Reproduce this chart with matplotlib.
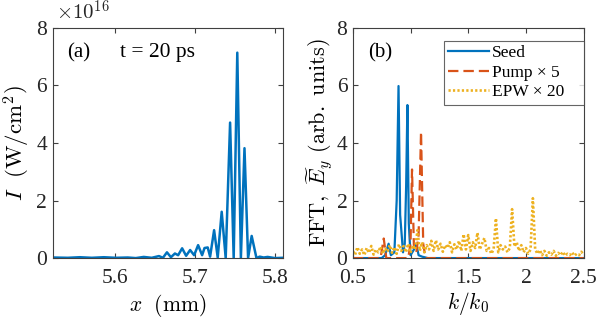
import numpy as np
import matplotlib
matplotlib.use("Agg")
import matplotlib.pyplot as plt
from matplotlib.ticker import FormatStrFormatter

plt.rcParams['font.family'] = ['Liberation Serif', 'DejaVu Serif']
plt.rcParams['mathtext.fontset'] = 'cm'
plt.rcParams['lines.scale_dashes'] = False

c_blue = '#0072BD'
c_orange = '#D95319'
c_yellow = '#EDB120'
c_axis = '#404040'

# (a) seed intensity, units of 1e16 W/cm^2
x_mm = [5.522, 5.541, 5.556, 5.571, 5.586, 5.601, 5.616, 5.626, 5.636, 5.646,
        5.655, 5.660, 5.665, 5.670, 5.675, 5.679, 5.684, 5.689, 5.694, 5.699,
        5.704, 5.709, 5.712, 5.716, 5.719, 5.724, 5.7285, 5.7335, 5.7385, 5.744,
        5.7485, 5.753, 5.7575, 5.762, 5.7665, 5.771, 5.777, 5.781, 5.786, 5.791,
        5.800, 5.810]
I_seed = [0.02, 0.01, 0.03, 0.01, 0.03, 0.01, 0.02, 0.0, 0.04, 0.01,
          0.07, 0.01, 0.20, 0.03, 0.16, 0.10, 0.34, 0.08, 0.28, 0.10,
          0.45, 0.10, 0.35, 0.37, 0.05, 0.97, 0.02, 1.61, 0.0, 4.71,
          0.0, 7.14, 0.0, 3.82, 0.0, 0.77, 0.0, 0.05, 0.02, 0.04,
          0.0, 0.01]

# (b) spectra
k_seed = [0.50, 0.75, 0.78, 0.81, 0.83, 0.86, 0.88, 0.896, 0.91, 0.935,
          0.95, 0.962, 0.973, 0.985, 1.00, 1.03, 1.05, 1.07, 1.10, 1.15, 2.50]
fft_seed = [0.0, 0.0, 0.1, 0.5, 0.1, 0.2, 2.0, 5.98, 1.5, 0.2,
            0.5, 2.5, 5.32, 1.2, 0.1, 0.3, 0.5, 0.1, 0.05, 0.0, 0.0]

k_pump = [0.50, 0.74, 0.768, 0.79, 0.98, 1.00, 1.013, 1.03, 1.05, 1.07,
          1.091, 1.11, 1.13, 2.50]
fft_pump = [0.0, 0.0, 0.68, 0.0, 0.0, 0.5, 3.08, 0.3, 0.2, 0.8,
            4.39, 0.5, 0.0, 0.0]

k_epw = [0.50, 0.52, 0.54, 0.56, 0.58, 0.60, 0.62, 0.64, 0.66, 0.68,
         0.70, 0.72, 0.74, 0.76, 0.78, 0.80, 0.82, 0.84, 0.86, 0.88,
         0.90, 0.92, 0.94, 0.96, 0.98, 1.00, 1.02, 1.04, 1.06, 1.08,
         1.10, 1.12, 1.14, 1.16, 1.18, 1.20, 1.22, 1.24, 1.26, 1.28,
         1.30, 1.32, 1.34, 1.36, 1.38, 1.40, 1.42, 1.44, 1.46, 1.48,
         1.50, 1.52, 1.54, 1.56, 1.58, 1.60, 1.62, 1.64, 1.66, 1.68,
         1.70, 1.72, 1.74, 1.76, 1.78, 1.80, 1.82, 1.84, 1.86, 1.88,
         1.90, 1.92, 1.94, 1.96, 1.98, 2.00, 2.02, 2.04, 2.06, 2.08,
         2.10, 2.12, 2.14, 2.16, 2.18, 2.20, 2.22, 2.24, 2.26, 2.28,
         2.30, 2.32, 2.34, 2.36, 2.38, 2.40, 2.42, 2.44, 2.46, 2.48, 2.50]
fft_epw = [0.25, 0.12, 0.38, 0.15, 0.30, 0.10, 0.35, 0.18, 0.42, 0.12,
           0.30, 0.20, 0.40, 0.15, 0.35, 0.22, 0.45, 0.18, 0.38, 0.15,
           0.48, 0.25, 0.42, 0.20, 0.50, 0.18, 0.45, 0.30, 0.97, 0.25,
           0.55, 0.20, 0.45, 0.30, 0.60, 0.25, 0.62, 0.30, 0.50, 0.22,
           0.45, 0.35, 0.55, 0.20, 0.48, 0.30, 0.60, 0.25, 0.83, 0.30,
           0.80, 0.25, 0.55, 0.35, 0.88, 0.30, 0.50, 0.70, 0.25, 0.35,
           0.15, 0.30, 1.38, 0.20, 0.45, 0.30, 0.40, 0.20, 0.35, 1.70,
           0.40, 0.55, 0.25, 0.45, 0.20, 0.35, 0.15, 0.30, 2.08, 0.30,
           0.15, 0.28, 0.10, 0.25, 0.08, 0.20, 0.12, 0.25, 0.08, 0.18,
           0.10, 0.22, 0.08, 0.15, 0.10, 0.20, 0.08, 0.15, 0.10, 0.22, 0.12]

fig = plt.figure(figsize=(5.98, 3.21), dpi=100)
ax1 = fig.add_axes([0.088, 0.196, 0.385, 0.717])
ax2 = fig.add_axes([0.590, 0.196, 0.386, 0.717])

ax1.plot(x_mm, I_seed, color=c_blue, lw=1.8)
ax1.set_xlim(5.522, 5.81)
ax1.set_ylim(0, 8)
ax1.set_xticks([5.6, 5.7, 5.8])
ax1.set_yticks([0, 2, 4, 6, 8])
ax1.set_xlabel(r'$x\ \ (\mathrm{mm})$', fontsize=15.5, labelpad=3)
ax1.set_ylabel(r'$I\ \ (\mathrm{W/cm^2})$', fontsize=16.5, labelpad=3)
ax1.text(0.013, 1.015, r'$\times 10^{16}$', transform=ax1.transAxes,
         fontsize=15, va='bottom', ha='left', color='#262626')
ax1.text(0.064, 0.893, '(a)', transform=ax1.transAxes, fontsize=15, va='center')
ax1.text(0.294, 0.893, 't = 20 ps', transform=ax1.transAxes, fontsize=15.5, va='center')

ax2.plot(k_seed, fft_seed, color=c_blue, lw=1.6, label='Seed')
ax2.plot(k_pump, fft_pump, color=c_orange, lw=1.6, dashes=(7.5, 3.6), label='Pump × 5')
ax2.plot(k_epw, fft_epw, color=c_yellow, lw=1.9, dashes=(1.6, 1.6), label='EPW × 20')
ax2.set_xlim(0.5, 2.5)
ax2.set_ylim(0, 8)
ax2.set_xticks([0.5, 1, 1.5, 2, 2.5])
ax2.xaxis.set_major_formatter(FormatStrFormatter('%g'))
ax2.set_yticks([0, 2, 4, 6, 8])
ax2.set_xlabel(r'$k/k_0$', fontsize=15.5, labelpad=1)
ax2.set_ylabel(r'$\mathrm{FFT,}\ \widetilde{E}_y\ (\mathrm{arb.\ units})$', fontsize=16, labelpad=1)
ax2.text(0.065, 0.893, '(b)', transform=ax2.transAxes, fontsize=15, va='center')
leg = ax2.legend(loc='upper left', bbox_to_anchor=(0.394, 0.0, 0.606, 0.945),
                 mode='expand', fontsize=12.5, frameon=True, fancybox=False,
                 handlelength=2.35, borderaxespad=0, labelspacing=0.2,
                 handletextpad=0.15, borderpad=0.25)
leg.get_frame().set_edgecolor(c_axis)
leg.get_frame().set_linewidth(0.8)

for ax in (ax1, ax2):
    for s in ax.spines.values():
        s.set_color(c_axis)
        s.set_linewidth(0.8)
    ax.tick_params(direction='in', length=3.5, width=0.8, color=c_axis,
                   labelsize=15.5, labelcolor='#262626', top=True, right=True, pad=4)
    ax.tick_params(axis='x', pad=8)

fig.savefig('out.png', dpi=100)
